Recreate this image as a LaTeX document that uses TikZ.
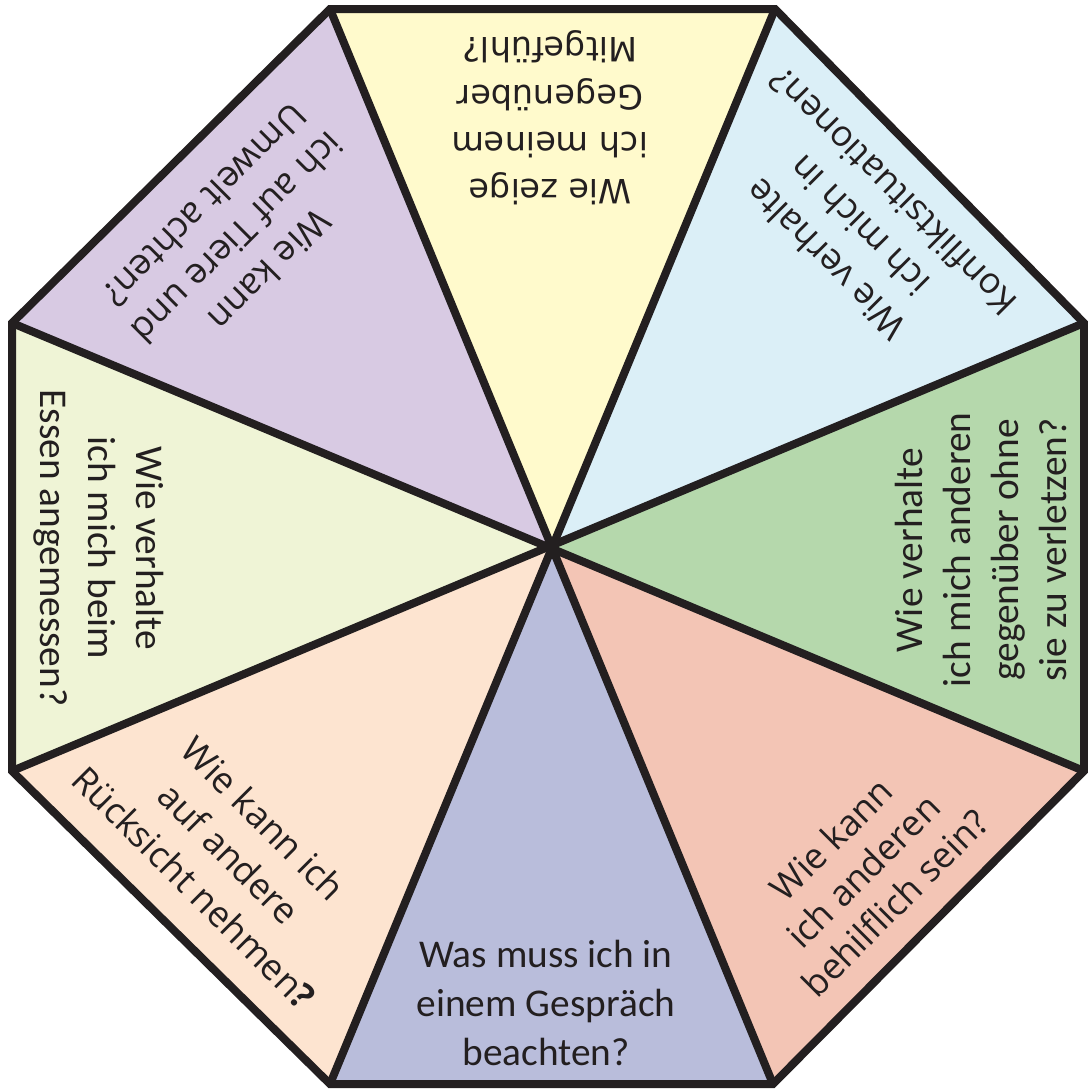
\documentclass[tikz,border=0pt]{standalone}
\usepackage{fontspec}
\setmainfont{Carlito}
\newfontfamily\osans{Open Sans}
\newfontfamily\dsans{DejaVu Sans}
\definecolor{txt}{HTML}{231F20}
\definecolor{cyel}{HTML}{FFFACC}
\definecolor{cblu}{HTML}{DBEFF7}
\definecolor{cgrn}{HTML}{B5D8AC}
\definecolor{csal}{HTML}{F3C5B5}
\definecolor{clav}{HTML}{B9BDDB}
\definecolor{cpea}{HTML}{FDE4D0}
\definecolor{clgr}{HTML}{EFF4D6}
\definecolor{clil}{HTML}{D8CAE3}
\tikzset{
  frame/.style={draw=txt, line width=6pt, line join=miter, line cap=butt},
  qtext/.style={align=center, inner sep=0pt, text=txt, anchor=center},
  cal/.style={qtext, font={\fontsize{29.5pt}{36.3pt}\selectfont}},
  osn/.style={qtext, font={\osans\fontsize{27pt}{36pt}\selectfont}},
  dvs/.style={qtext, font={\dsans\fontsize{25.1pt}{35.5pt}\selectfont}}
}
\begin{document}
\begin{tikzpicture}[x=0.75pt, y=-0.75pt]
\useasboundingbox (0,0) rectangle (1088,1090);
\coordinate (O) at (550,547);
\coordinate (A) at (330,9);
\coordinate (B) at (775,9);
\coordinate (C) at (1084,323);
\coordinate (D) at (1084,771);
\coordinate (E) at (773,1084);
\coordinate (F) at (330,1084);
\coordinate (G) at (12,771);
\coordinate (H) at (12,323);
\fill[cyel] (O) -- (A) -- (B) -- cycle;
\fill[cblu] (O) -- (B) -- (C) -- cycle;
\fill[cgrn] (O) -- (C) -- (D) -- cycle;
\fill[csal] (O) -- (D) -- (E) -- cycle;
\fill[clav] (O) -- (E) -- (F) -- cycle;
\fill[cpea] (O) -- (F) -- (G) -- cycle;
\fill[clgr] (O) -- (G) -- (H) -- cycle;
\fill[clil] (O) -- (H) -- (A) -- cycle;
\draw[frame] (A) -- (E);
\draw[frame] (B) -- (F);
\draw[frame] (C) -- (G);
\draw[frame] (D) -- (H);
\draw[frame] (A) -- (B) -- (C) -- (D) -- (E) -- (F) -- (G) -- (H) -- cycle;
\node[dvs, rotate=180] (qtop) at (550,118) {Wie zeige\\ich meinem\\Gegenüber\\Mitgefühl?};
\node[osn, rotate=135, font={\osans\fontsize{27pt}{35.8pt}\selectfont}] (qtr) at (859,226) {Wie verhalte\\ich mich in\\Konfliktsituationen?};
\node[cal, rotate=90, font={\fontsize{29.5pt}{36.2pt}\selectfont}] (qr) at (981,550) {Wie verhalte\\ich mich anderen\\gegenüber ohne\\sie zu verletzen?};
\node[osn, rotate=45, font={\osans\fontsize{27pt}{33.7pt}\selectfont}] (qbr) at (863,871) {Wie kann\\ich anderen\\behilflich sein?};
\node[cal, font={\fontsize{29.5pt}{36.4pt}\selectfont}] (qb) at (546,1003) {Was muss ich in\\einem Gespräch\\beachten?};
\node[osn, rotate=-45, font={\osans\fontsize{27pt}{36.6pt}\selectfont}] (qbl) at (229,853) {Wie kann ich\\auf andere\\Rücksicht nehmen{\bfseries ?}};
\node[cal, rotate=-90, font={\fontsize{29.5pt}{36pt}\selectfont}] (ql) at (99,548) {Wie verhalte\\ich mich beim\\Essen angemessen?};
\node[osn, rotate=225, font={\osans\fontsize{27pt}{34.5pt}\selectfont}] (qtl) at (238,238) {Wie kann\\ich auf Tiere und\\Umwelt achten?};
\end{tikzpicture}
\end{document}
